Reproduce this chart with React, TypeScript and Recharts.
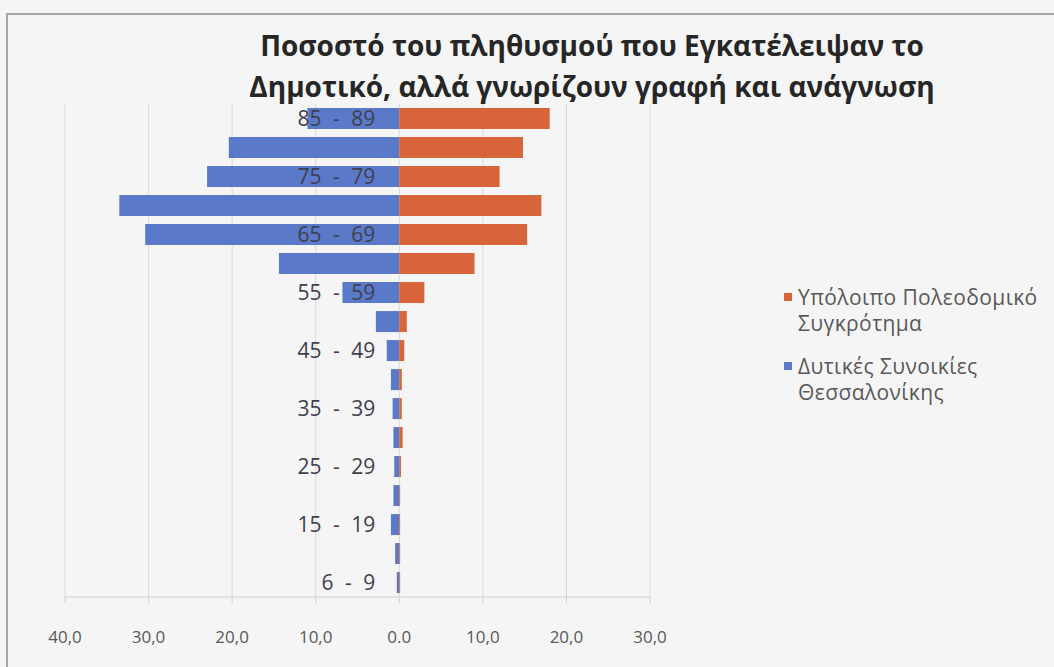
import { BarChart, Bar, XAxis, YAxis, CartesianGrid, LabelList } from 'recharts';

// age groups, top of the pyramid first
const ageGroups = [
  '85 - 89', '80 - 84', '75 - 79', '70 - 74', '65 - 69', '60 - 64', '55 - 59', '50 - 54', '45 - 49',
  '40 - 44', '35 - 39', '30 - 34', '25 - 29', '20 - 24', '15 - 19', '10 - 14', '6 - 9',
];
// only every other group gets a label on the chart
const shownLabels = ['85 - 89', '75 - 79', '65 - 69', '55 - 59', '45 - 49', '35 - 39', '25 - 29', '15 - 19', '6 - 9'];

const westSuburbs = [11.0, 20.4, 23.0, 33.5, 30.4, 14.4, 6.8, 2.8, 1.5, 1.0, 0.8, 0.7, 0.6, 0.7, 1.0, 0.5, 0.3];
const restOfUrbanArea = [18.0, 14.8, 12.0, 17.0, 15.3, 9.0, 3.0, 0.9, 0.6, 0.3, 0.3, 0.4, 0.2, 0.1, 0.1, 0.1, 0.1];

const xTicks = [-40, -30, -20, -10, 0, 10, 20, 30];

const seriesNames = ['Υπόλοιπο Πολεοδομικό Συγκρότημα', 'Δυτικές Συνοικίες Θεσσαλονίκης'];
const title = ['Ποσοστό του πληθυσμού που Εγκατέλειψαν το', 'Δημοτικό, αλλά γνωρίζουν γραφή και ανάγνωση'];

const ORANGE = '#d8643a';
const BLUE = '#5b79c9';
const FONT = '"Open Sans", sans-serif';

const data = ageGroups.map((age, i) => ({
  age,
  tick: shownLabels.includes(age) ? age : '',
  west: -westSuburbs[i],
  rest: restOfUrbanArea[i],
}));

const fmt = (v: number) => (v === 0 ? '0.0' : Math.abs(v).toFixed(1).replace('.', ','));

const App = () => {
  return (
    <div style={{ position: 'fixed', left: 0, top: 0, width: 1054, height: 667, background: '#f5f5f5', fontFamily: FONT }}>
      <div style={{ position: 'absolute', left: 6, top: 13, right: 0, bottom: 0, borderLeft: '2px solid #a6a6a6', borderTop: '2px solid #a6a6a6' }} />
      <div style={{ position: 'absolute', left: 192, width: 800, top: 25, textAlign: 'center', fontSize: 28, fontWeight: 700, lineHeight: '41px', color: '#262626' }}>
        {title[0]}<br />{title[1]}
      </div>
      <BarChart
        width={1054}
        height={667}
        data={data}
        layout="vertical"
        stackOffset="sign"
        barCategoryGap="14%"
        margin={{ top: 104, right: 404, bottom: 30, left: 65 }}
        style={{ position: 'absolute', left: 0, top: 0 }}
      >
        <CartesianGrid horizontal={false} stroke="#d9d9d9" />
        <XAxis
          type="number"
          domain={[-40, 30]}
          ticks={xTicks}
          tickFormatter={fmt}
          height={40}
          stroke="#d0d0d0"
          tickSize={6}
          tickMargin={28}
          tick={{ fontSize: 17, fill: '#595959', fontFamily: FONT }}
        />
        <YAxis type="category" dataKey="age" hide />
        <Bar dataKey="west" stackId="a" fill={BLUE} isAnimationActive={false} />
        <Bar dataKey="rest" stackId="a" fill={ORANGE} isAnimationActive={false}>
          <LabelList dataKey="tick" position="left" offset={24} fill="#3f3f4f" fontSize={21} fontFamily={FONT} style={{ wordSpacing: 6 }} />
        </Bar>
      </BarChart>
      <div style={{ position: 'absolute', left: 784, top: 284, width: 268, fontSize: 21, letterSpacing: 0.4, color: '#595959', lineHeight: '26px' }}>
        {[ORANGE, BLUE].map((c, i) => (
          <div key={i} style={{ display: 'flex', alignItems: 'flex-start', marginBottom: 17 }}>
            <span style={{ display: 'inline-block', width: 8, height: 8, background: c, marginTop: 9, marginRight: 6, flexShrink: 0 }} />
            <span style={{ width: 250 }}>{seriesNames[i]}</span>
          </div>
        ))}
      </div>
    </div>
  );
};

export default App;
